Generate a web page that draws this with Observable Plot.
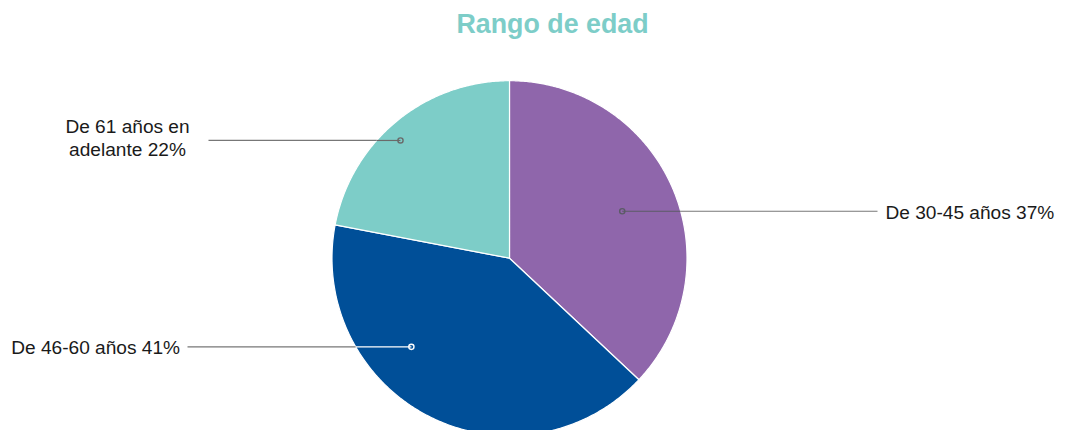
<!DOCTYPE html>
<html>
<head>
<meta charset="utf-8">
<script src="https://cdn.jsdelivr.net/npm/d3@7"></script>
<script src="https://cdn.jsdelivr.net/npm/@observablehq/plot@0.6"></script>
<style>
  html, body { margin: 0; padding: 0; background: #ffffff; }
  #chart svg { display: block; }
</style>
</head>
<body>
<div id="chart"></div>
<script>
// ---- data ----
const categories = ["De 30-45 años", "De 46-60 años", "De 61 años en adelante"];
const percents = [37, 41, 22];
const labelTexts = ["De 30-45 años 37%", "De 46-60 años 41%", "De 61 años en\nadelante 22%"];
const title = "Rango de edad";

// ---- styles / layout ----
const sliceColors = ["#8f66ab", "#004f98", "#7dcdc8"];
const innerLineColors = ["#5b5b66", "#ffffff", "#6a6a6a"];
const outerLineColor = "#777777";
const W = 1065, H = 430;
const cx = 509, cy = 257.7, R = 177.5;
// label anchor placement (angle in degrees clockwise from top, radius fraction)
const anchorLayout = [
  {angle: 67.4, rf: 0.688, lineEnd: 877, textX: 885, anchor: "start", dy: 0},
  {angle: 227.9, rf: 0.745, lineEnd: 187, textX: 179.5, anchor: "end", dy: 0},
  {angle: 317.2, rf: 0.904, lineEnd: 208, textX: 127, anchor: "middle", dy: -3}
];

// ---- geometry from data ----
const pie = d3.pie().sort(null).value(d => d)(percents);
const arcPts = pie.map((p, i) => {
  const pts = [{x: cx, y: cy}];
  const n = Math.max(2, Math.ceil((p.endAngle - p.startAngle) / (Math.PI / 360)));
  for (let k = 0; k <= n; k++) {
    const a = p.startAngle + (p.endAngle - p.startAngle) * k / n;
    pts.push({x: cx + R * Math.sin(a), y: cy - R * Math.cos(a)});
  }
  pts.push({x: cx, y: cy});
  return pts;
});

const leaders = anchorLayout.map((L, i) => {
  const a = L.angle * Math.PI / 180;
  const ax = cx + R * L.rf * Math.sin(a);
  const ay = cy - R * L.rf * Math.cos(a);
  const dy = ay - cy;
  const half = Math.sqrt(Math.max(0, R * R - dy * dy));
  const edgeX = L.lineEnd > ax ? cx + half : cx - half;
  return {i, ax, ay, edgeX, lineEnd: L.lineEnd, textX: L.textX, anchor: L.anchor,
          ty: ay + L.dy, text: labelTexts[i], inner: innerLineColors[i]};
});

const font = "'Liberation Sans', Arial, Helvetica, sans-serif";

const marks = [];
arcPts.forEach((pts, i) => {
  marks.push(Plot.line(pts, {x: "x", y: "y", fill: sliceColors[i], stroke: "#ffffff", strokeWidth: 1.2, curve: "linear"}));
});
// outer leader segments
marks.push(Plot.link(leaders, {x1: "edgeX", y1: "ay", x2: "lineEnd", y2: "ay", stroke: outerLineColor, strokeWidth: 1.2}));
// inner leader segments
leaders.forEach(l => {
  marks.push(Plot.link([l], {x1: "ax", y1: "ay", x2: "edgeX", y2: "ay", stroke: l.inner, strokeWidth: 1.2}));
  marks.push(Plot.dot([l], {x: "ax", y: "ay", r: 2.6, stroke: l.inner, fill: "none", strokeWidth: 1.4}));
  marks.push(Plot.text([l], {x: "textX", y: "ty", text: "text", textAnchor: l.anchor, lineAnchor: "middle",
    lineHeight: 1.19, fontSize: 19.1, fill: "#1a1a1a", fontFamily: font}));
});
// title
marks.push(Plot.text([title], {x: () => 456, y: () => 24, text: d => d, textAnchor: "start", lineAnchor: "middle",
  fontSize: 26.8, fontWeight: "bold", fill: "#7dcdc8", fontFamily: font}));

const chart = Plot.plot({
  width: W,
  height: H,
  margin: 0,
  x: {domain: [0, W], range: [0, W], axis: null},
  y: {domain: [0, H], range: [0, H], axis: null},
  style: {fontFamily: font, background: "#ffffff"},
  marks
});
document.getElementById("chart").appendChild(chart);
</script>
</body>
</html>
